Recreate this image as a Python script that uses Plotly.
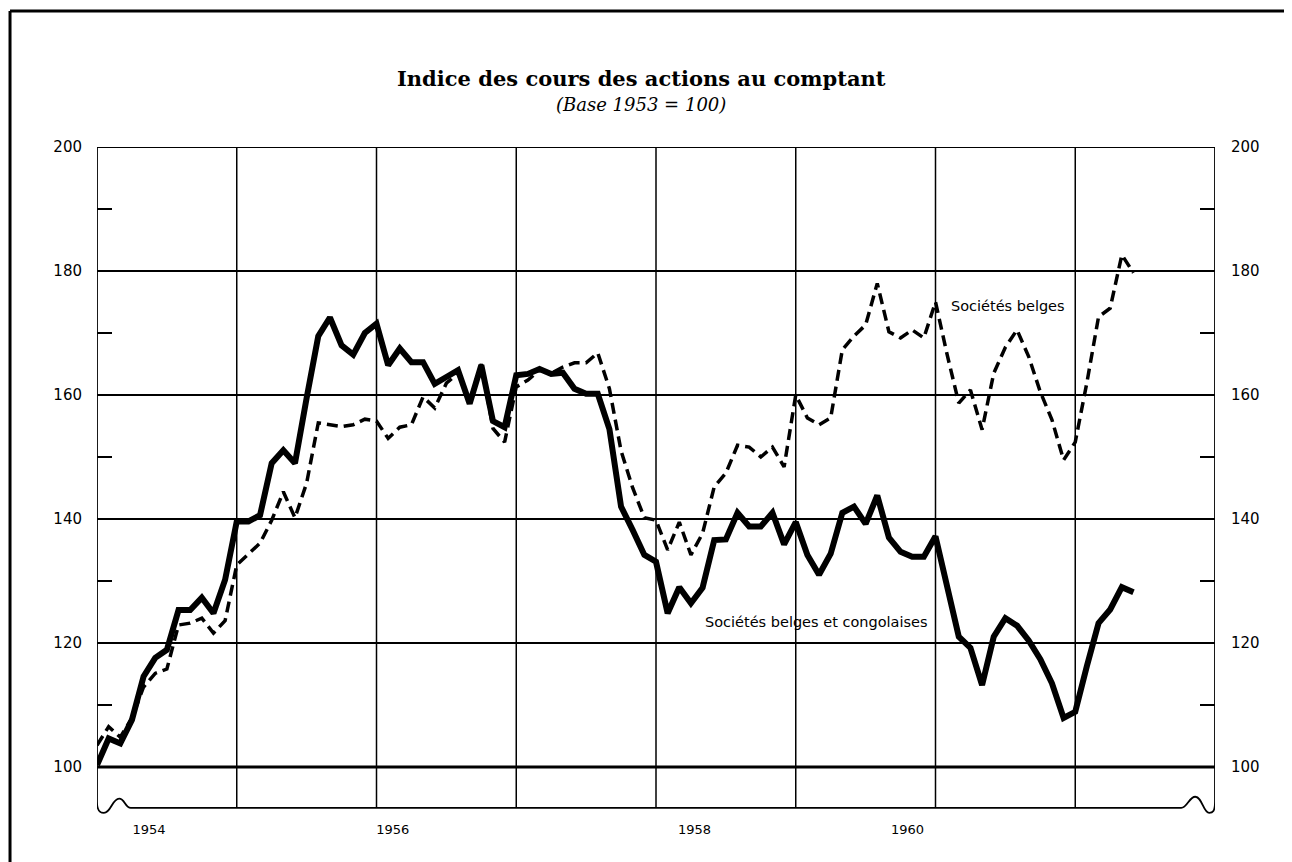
import plotly.graph_objects as go

# ---- data (monthly, index 0 = first month of 1954) ----
months = list(range(90))
belges_congolaises = [
    100.3, 104.6, 103.8, 107.6, 114.6, 117.6, 118.9, 125.3, 125.3, 127.3, 124.8, 130.2,
    139.6, 139.6, 140.6, 149.0, 151.1, 149.0, 159.5, 169.5, 172.5, 168.0, 166.5, 170.0,
    171.5, 164.8, 167.5, 165.3, 165.3, 161.8, 162.9, 164.0, 158.6, 164.8, 155.8, 154.8,
    163.2, 163.4, 164.2, 163.4, 163.6, 161.0, 160.2, 160.2, 154.5, 142.0, 138.2, 134.2,
    133.1, 124.8, 129.0, 126.4, 128.9, 136.6, 136.7, 141.0, 138.8, 138.8, 141.0, 135.9,
    139.5, 134.2, 131.0, 134.4, 141.0, 142.0, 139.2, 143.8, 137.0, 134.7, 133.9, 133.9,
    137.2, 129.5, 121.0, 119.2, 113.2, 121.0, 124.0, 122.8, 120.4, 117.4, 113.5, 107.9,
    108.9, 116.3, 123.2, 125.4, 129.0, 128.2,
]
belges = [
    103.5, 106.5, 104.8, 107.9, 112.9, 115.1, 115.8, 122.9, 123.2, 124.0, 121.6, 123.6,
    132.6, 134.4, 136.1, 139.8, 144.4, 140.2, 145.8, 155.5, 155.2, 154.9, 155.2, 156.1,
    155.8, 153.0, 154.8, 155.2, 159.7, 157.9, 161.9, 163.5, 159.0, 165.0, 154.6, 152.4,
    161.3, 162.4, 164.0, 163.5, 164.5, 165.2, 165.2, 166.8, 161.0, 151.0, 145.0, 140.2,
    139.8, 135.0, 139.5, 134.2, 137.7, 145.2, 147.4, 151.9, 151.6, 150.0, 151.6, 148.4,
    160.0, 156.3, 155.2, 156.3, 167.3, 169.5, 171.3, 178.0, 170.2, 169.2, 170.5, 169.2,
    175.0, 166.5, 158.7, 160.8, 154.4, 163.5, 167.7, 170.5, 166.2, 160.5, 156.0, 149.5,
    152.4, 162.0, 172.6, 174.0, 182.6, 179.7,
]
year_label_pos = [4.47, 25.4, 51.3, 69.6]
year_labels = ["1954", "1956", "1958", "1960"]
year_bounds = [12, 24, 36, 48, 60, 72, 84]
y_major = [100, 120, 140, 160, 180, 200]
y_minor = [110, 130, 150, 170, 190]

X_MAX = 96
Y_TOP = 200
Y_BASE = 93.39
Y_MIN = 91.77

TICK_FONT = dict(family="DejaVu Sans, sans-serif", size=15, color="black")
LABEL_FONT = dict(family="DejaVu Sans, sans-serif", size=14.5, color="black")

fig = go.Figure()
fig.add_trace(go.Scatter(x=months, y=belges, mode="lines", name="Sociétés belges",
                         line=dict(color="black", width=3.5, dash="11px,6px"),
                         showlegend=False, hoverinfo="skip"))
fig.add_trace(go.Scatter(x=months, y=belges_congolaises, mode="lines",
                         name="Sociétés belges et congolaises",
                         line=dict(color="black", width=6), showlegend=False,
                         hoverinfo="skip"))
fig.add_trace(go.Scatter(x=[None], y=[None], yaxis="y2", showlegend=False))

shapes = []
for b in year_bounds:
    shapes.append(dict(type="line", xref="x", yref="y", x0=b, x1=b, y0=Y_BASE, y1=Y_TOP,
                       line=dict(color="black", width=1.5), layer="below"))
shapes.append(dict(type="line", xref="x", yref="y", x0=0, x1=X_MAX, y0=100, y1=100,
                   line=dict(color="black", width=3), layer="below"))
# frame with the wavy axis-break marks at the bottom corners
frame = (f"M {X_MAX},{Y_TOP} L 0,{Y_TOP} L 0,94.4 "
         f"C 0,92.8 0.3,92.6 0.6,92.6 C 1.2,92.6 1.3,94.9 1.9,94.9 "
         f"C 2.4,94.9 2.4,{Y_BASE} 2.9,{Y_BASE} L 93.1,{Y_BASE} "
         f"C 93.6,{Y_BASE} 93.8,95.2 94.3,95.2 C 94.9,95.2 95.0,92.6 95.5,92.6 "
         f"C 95.8,92.6 {X_MAX},92.8 {X_MAX},94.4 Z")
shapes.append(dict(type="path", xref="x", yref="y", path=frame,
                   line=dict(color="black", width=1.8), fillcolor="rgba(0,0,0,0)"))
# page border (top and left)
shapes.append(dict(type="line", xref="paper", yref="paper", x0=-0.0778, x1=1.1,
                   y0=1.2027, y1=1.2027, line=dict(color="black", width=3)))
shapes.append(dict(type="line", xref="paper", yref="paper", x0=-0.0778, x1=-0.0778,
                   y0=1.2027, y1=-0.1, line=dict(color="black", width=3)))

fig.update_layout(
    width=1292, height=862,
    margin=dict(l=89, r=85, t=139, b=52),
    paper_bgcolor="white", plot_bgcolor="white",
    shapes=shapes,
    xaxis=dict(range=[0, X_MAX], tickvals=year_label_pos, ticktext=year_labels,
               showgrid=False, zeroline=False, showline=False, ticks="",
               ticklabelstandoff=2,
               tickfont=dict(family="DejaVu Sans, sans-serif", size=13, color="black")),
    yaxis=dict(range=[Y_MIN, Y_TOP], tickvals=y_major, showgrid=True, gridcolor="black",
               gridwidth=1.5, zeroline=False, showline=False, ticks="",
               ticklabelstandoff=14, tickfont=TICK_FONT,
               minor=dict(tickvals=y_minor, ticks="inside", ticklen=15, tickwidth=1.5,
                          tickcolor="black", showgrid=False)),
    yaxis2=dict(range=[Y_MIN, Y_TOP], overlaying="y", side="right", tickvals=y_major,
                showgrid=False, zeroline=False, showline=False, ticks="",
                ticklabelstandoff=15, tickfont=TICK_FONT,
                minor=dict(tickvals=y_minor, ticks="inside", ticklen=15, tickwidth=1.5,
                           tickcolor="black", showgrid=False)),
    annotations=[
        dict(text="<b>Indice des cours des actions au comptant</b>", xref="paper",
             yref="paper", x=0.4866, y=1.1028, xanchor="center", yanchor="middle",
             showarrow=False,
             font=dict(family="DejaVu Serif, serif", size=21, color="black")),
        dict(text="<i>(Base 1953 = 100)</i>", xref="paper", yref="paper",
             x=0.4866, y=1.0626, xanchor="center", yanchor="middle", showarrow=False,
             font=dict(family="DejaVu Serif, serif", size=18, color="black")),
        dict(text="Sociétés belges", xref="x", yref="y", x=78.2, y=174.4,
             xanchor="center", yanchor="middle", showarrow=False, font=LABEL_FONT),
        dict(text="Sociétés belges et congolaises", xref="x", yref="y", x=61.8, y=123.4,
             xanchor="center", yanchor="middle", showarrow=False, font=LABEL_FONT),
    ],
)

fig.write_html("out.html")
